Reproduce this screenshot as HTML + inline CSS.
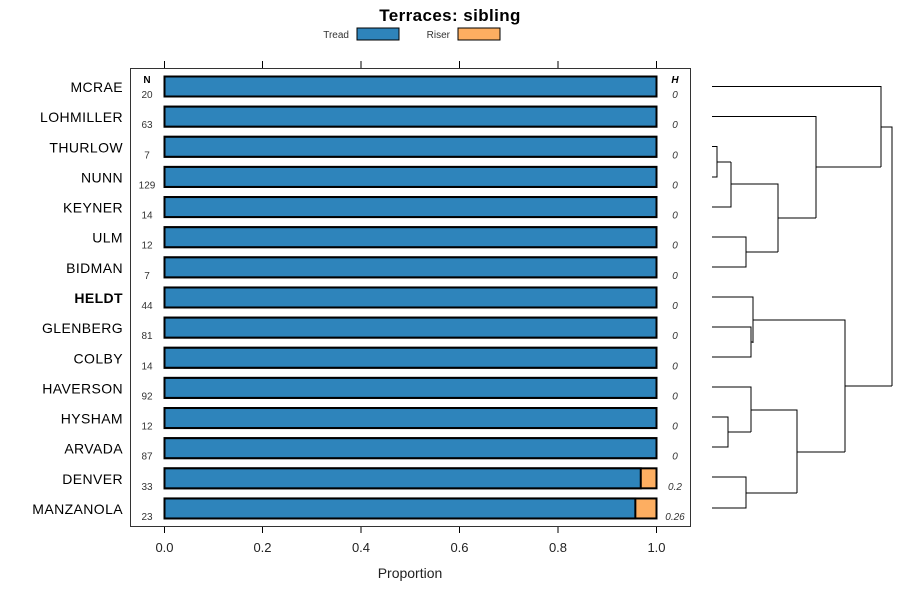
<!DOCTYPE html>
<html><head><style>body{margin:0;background:#fff}svg{display:block}text{font-family:"Liberation Sans",sans-serif}</style></head><body>
<svg width="900" height="600" xmlns="http://www.w3.org/2000/svg">
<text x="450" y="21" text-anchor="middle" font-size="17" font-weight="bold" letter-spacing="0.4">Terraces: sibling</text>
<text x="349" y="38" text-anchor="end" font-size="10" fill="#333">Tread</text>
<rect x="357" y="28" width="42" height="12" fill="#2e84bb" stroke="#000"/>
<text x="450" y="38" text-anchor="end" font-size="10" fill="#333">Riser</text>
<rect x="458" y="28" width="42" height="12" fill="#fdae61" stroke="#000"/>
<rect x="130.5" y="68.5" width="560" height="458" fill="none" stroke="#333"/>
<g stroke="#000">
<line x1="164.5" y1="61" x2="164.5" y2="68"/><line x1="262.5" y1="61" x2="262.5" y2="68"/><line x1="361" y1="61" x2="361" y2="68"/><line x1="459.5" y1="61" x2="459.5" y2="68"/><line x1="558" y1="61" x2="558" y2="68"/><line x1="656.5" y1="61" x2="656.5" y2="68"/>
<line x1="164.5" y1="527" x2="164.5" y2="533"/><line x1="262.5" y1="527" x2="262.5" y2="533"/><line x1="361" y1="527" x2="361" y2="533"/><line x1="459.5" y1="527" x2="459.5" y2="533"/><line x1="558" y1="527" x2="558" y2="533"/><line x1="656.5" y1="527" x2="656.5" y2="533"/>
</g>
<g font-size="13" text-anchor="middle" fill="#222">
<text x="164.5" y="552">0.0</text><text x="262.5" y="552">0.2</text><text x="361" y="552">0.4</text><text x="459.5" y="552">0.6</text><text x="558" y="552">0.8</text><text x="656.5" y="552">1.0</text>
<text x="410" y="578" font-size="14">Proportion</text>
</g>
<text x="147" y="83" text-anchor="middle" font-size="10" font-weight="bold">N</text>
<text x="675" y="83" text-anchor="middle" font-size="10" font-weight="bold" font-style="italic">H</text>
<g id="rows"></g>
<g fill="none" stroke="#000" stroke-width="1">
<path d="M712 86.5H881V167M816 167H881M881 127H892V386M845 386H892"/>
<path d="M712 116.5H816V218M778 218H816"/>
<path d="M712 146.5H717V177H712M717 162H731M712 207H731V162M731 184H778V252M746 252H778M712 237H746V267H712"/>
<path d="M712 297H753V343M712 327H751V357H712M751 342H753M753 320H845V452M797 452H845"/>
<path d="M712 387H751V432M712 417H728V447H712M728 432H751M751 410H797V493M712 477H746V508H712M746 493H797"/>
</g>
</svg>
<script>
var names=["MCRAE","LOHMILLER","THURLOW","NUNN","KEYNER","ULM","BIDMAN","HELDT","GLENBERG","COLBY","HAVERSON","HYSHAM","ARVADA","DENVER","MANZANOLA"];
var ns=[20,63,7,129,14,12,7,44,81,14,92,12,87,33,23];
var hs=["0","0","0","0","0","0","0","0","0","0","0","0","0","0.2","0.26"];
var fr=[1,1,1,1,1,1,1,1,1,1,1,1,1,0.968,0.957];
var g=document.getElementById("rows"),s="";
for(var i=0;i<15;i++){var t=76.5+i*30.14,c=t+10.5;
s+='<text x="123" y="'+(c+5)+'" text-anchor="end" font-size="14" letter-spacing="0.4"'+(i==7?' font-weight="bold"':'')+'>'+names[i]+'</text>';
s+='<text x="147" y="'+(c+11)+'" text-anchor="middle" font-size="10" fill="#333">'+ns[i]+'</text>';
s+='<text x="675" y="'+(c+11)+'" text-anchor="middle" font-size="10" font-style="italic" fill="#333">'+hs[i]+'</text>';
var w=492*fr[i];
s+='<rect x="164.5" y="'+t+'" width="492" height="20" fill="#fdae61" stroke="#000" stroke-width="2"/>';
s+='<rect x="164.5" y="'+t+'" width="'+w+'" height="20" fill="#2e84bb" stroke="#000" stroke-width="2"/>';}
g.innerHTML=s;
</script>
</body></html>
